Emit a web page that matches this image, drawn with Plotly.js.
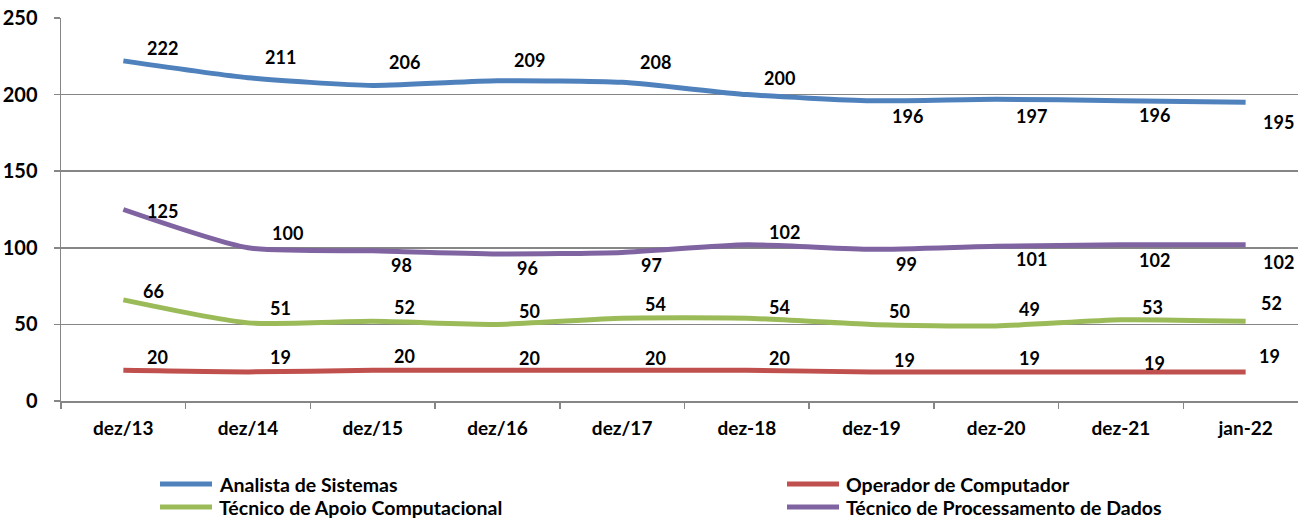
<!DOCTYPE html>
<html>
<head>
<meta charset="utf-8">
<script src="https://cdn.plot.ly/plotly-3.0.1.min.js"></script>
<style>html,body{margin:0;padding:0;background:#fff;}#chart{width:1298px;height:519px;}</style>
</head>
<body>
<div id="chart"></div>
<script>
// ---- data ----
var categories = ["dez/13","dez/14","dez/15","dez/16","dez/17","dez-18","dez-19","dez-20","dez-21","jan-22"];
var analistaSistemas = [222,211,206,209,208,200,196,197,196,195];
var operadorComputador = [20,19,20,20,20,20,19,19,19,19];
var tecnicoApoio = [66,51,52,50,54,54,50,49,53,52];
var tecnicoProcessamento = [125,100,98,96,97,102,99,101,102,102];
var seriesNames = ["Analista de Sistemas","Operador de Computador","Técnico de Apoio Computacional","Técnico de Processamento de Dados"];

// ---- styling / label placement (px offsets from each point) ----
var colors = ["#4F81BD","#C0504D","#9BBB59","#8064A2"];
var labelDx = [
  [39,32,32,32,33,33,36,35,34,33],
  [34,32,32,32,33,33,33,33,34,24],
  [30,32,32,32,33,33,28,33,32,26],
  [39,39,29,30,29,38,35,35,34,33]
];
var labelDy = [
  [13,21,23,21,20,17,-15,-17,-14,-20],
  [13,15,14,12,12,12,12,14,9,16],
  [9,15,14,13,14,11,13,17,13,18],
  [-1,15,-14,-14,-13,13,-15,-13,-15,-17]
];
// legend slots (pixel positions in the page): column x of the line start, row y
var legendCol = [160, 787, 160, 787];
var legendRow = [484, 484, 507, 507];

var W = 1298, H = 519, ML = 61, MR = 0, MT = 18, MB = 118;
var plotW = W - ML - MR, plotH = H - MT - MB;
function px2x(p){ return (p - ML) / plotW; }
function px2y(p){ return (H - MB - p) / plotH; }

var allSeries = [analistaSistemas, operadorComputador, tecnicoApoio, tecnicoProcessamento];
var FONT = "Lato, 'Liberation Sans', sans-serif";

var traces = allSeries.map(function(vals, i){
  return {
    type: "scatter", mode: "lines",
    x: categories, y: vals, name: seriesNames[i],
    line: {color: colors[i], width: 5, shape: "spline", smoothing: 0.6},
    hoverinfo: "x+y+name", showlegend: false
  };
});

var annotations = [];
allSeries.forEach(function(vals, i){
  vals.forEach(function(v, j){
    annotations.push({
      x: categories[j], y: v, xref: "x", yref: "y",
      text: String(v), showarrow: false,
      xshift: labelDx[i][j], yshift: labelDy[i][j],
      font: {family: FONT, size: 18, color: "#000", weight: 700}
    });
  });
});

var shapes = [];
seriesNames.forEach(function(n, i){
  shapes.push({
    type: "line", xref: "paper", yref: "paper",
    x0: px2x(legendCol[i]), x1: px2x(legendCol[i] + 52),
    y0: px2y(legendRow[i]), y1: px2y(legendRow[i]),
    line: {color: colors[i], width: 5}
  });
  annotations.push({
    xref: "paper", yref: "paper", x: px2x(legendCol[i] + 57), y: px2y(legendRow[i]),
    xanchor: "left", yanchor: "middle", text: n, showarrow: false,
    font: {family: FONT, size: 19.5, color: "#000", weight: 700}
  });
});

var layout = {
  width: W, height: H,
  margin: {l: ML, r: MR, t: MT, b: MB},
  paper_bgcolor: "#fff", plot_bgcolor: "#fff",
  showlegend: false,
  font: {family: FONT, size: 18, color: "#000", weight: 700},
  xaxis: {
    type: "category", range: [-0.5, 9.42],
    showgrid: false, showline: true, linecolor: "#868686", linewidth: 1.5,
    ticks: "outside", tickson: "boundaries", ticklen: 6, tickcolor: "#868686", tickwidth: 1.5,
    ticklabelstandoff: 10,
    tickfont: {family: FONT, size: 19, color: "#000", weight: 700},
    zeroline: false, fixedrange: true
  },
  yaxis: {
    range: [0, 250], dtick: 50, tick0: 0,
    showgrid: true, gridcolor: "#868686", gridwidth: 1.5,
    showline: true, linecolor: "#868686", linewidth: 1.5,
    ticks: "outside", ticklen: 6, tickcolor: "#868686", tickwidth: 1.5,
    ticklabelstandoff: 12,
    tickfont: {family: FONT, size: 20, color: "#000", weight: 700},
    zeroline: false, fixedrange: true
  },
  shapes: shapes,
  annotations: annotations
};

Plotly.newPlot("chart", traces, layout, {displayModeBar: false, staticPlot: true});
</script>
</body>
</html>
